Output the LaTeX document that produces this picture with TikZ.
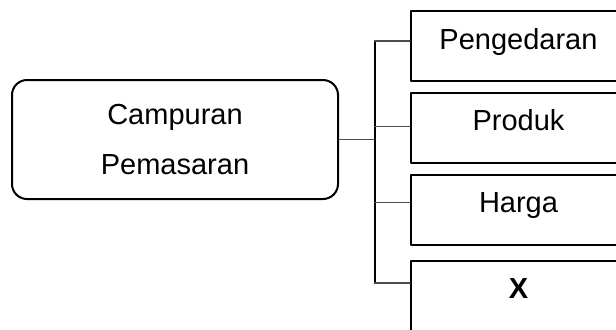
\documentclass[tikz,border=0pt]{standalone}
\usepackage{fontspec}
\setmainfont{Liberation Sans}
\begin{document}
\begin{tikzpicture}[x=0.5pt, y=-0.5pt, font=\fontsize{14.5}{25}\selectfont, line join=round, line cap=round,
		mix/.style={draw, line width=1pt, rounded corners=7.5pt, minimum width=163pt, minimum height=59.5pt, align=center},
		unsur/.style={draw, line width=1pt, minimum width=107.5pt, minimum height=35pt, text height=10pt, text depth=7pt},
		cabang/.style={draw=black!70, line width=0.65pt}]
		\useasboundingbox (0,0) rectangle (616,329);
		\clip (0,0) rectangle (616,329);
		\node[mix] (cp) at (175,139.5) {Campuran\\Pemasaran};
		\node[unsur] (pg) at (518.5,46) {Pengedaran};
		\node[unsur] (pr) at (518.5,127.8) {Produk};
		\node[unsur] (hg) at (518.5,209.5) {Harga};
		\node[unsur] (x) at (518.5,295.5) {\bfseries X};
		\coordinate (t1) at (374.5,41);
		\coordinate (t2) at (374.5,126.7);
		\coordinate (t3) at (374.5,202.5);
		\coordinate (t4) at (374.5,283);
		\draw[line width=1pt] (t1) -- (t4);
		\draw[cabang] (cp.east) -- (cp.east -| t1);
		\draw[cabang] (t1) -- (t1 -| pg.west);
		\draw[cabang] (t2) -- (t2 -| pr.west);
		\draw[cabang] (t3) -- (t3 -| hg.west);
		\draw[cabang] (t4) -- (t4 -| x.west);
	\end{tikzpicture}
\end{document}
